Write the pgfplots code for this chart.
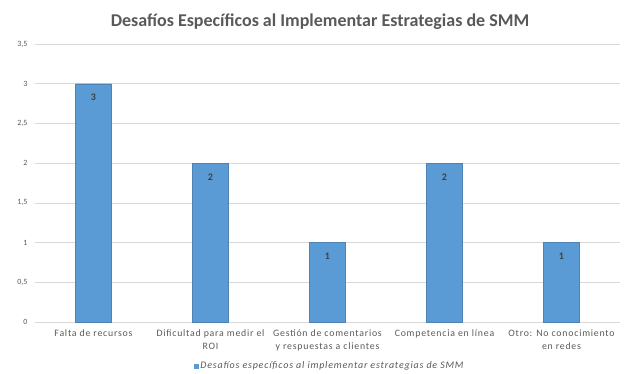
\documentclass[border=0pt]{standalone}
\usepackage{pgfplots}
\pgfplotsset{compat=1.18}
\usepackage{fontspec}
\setmainfont{Carlito}
\newfontfamily\widefont[LetterSpace=8]{Carlito}
\definecolor{barblue}{HTML}{5B9BD5}
\definecolor{txtgray}{HTML}{595959}
\definecolor{gridgray}{HTML}{D9D9D9}
\begin{document}
\begin{tikzpicture}[x=1pt,y=1pt]
\useasboundingbox (0,0) rectangle (625,373);
\begin{axis}[
  at={(35pt,51pt)}, anchor=south west,
  scale only axis, width=585pt, height=278pt,
  xmin=-0.5, xmax=4.5, ymin=0, ymax=3.5,
  ytick={0,0.5,...,3.5},
  /pgf/number format/use comma,
  /pgf/number format/assume math mode=true,
  xtick=data,
  xticklabels={Falta de recursos,{Dificultad para medir el\\ROI},{Gestión de comentarios\\y respuestas a clientes},Competencia en línea,{Otro: No conocimiento\\en redes}},
  xticklabel style={align=center, font=\widefont\fontsize{9.8}{13}\selectfont, text=txtgray, yshift=-4pt},
  yticklabel style={font=\fontsize{8}{9}\selectfont, text=txtgray, xshift=-4pt},
  axis lines*=left,
  y axis line style={draw=none},
  x axis line style={draw=gridgray, -},
  ymajorgrids, grid style={draw=gridgray, line width=0.6pt},
  major tick length=0pt,
  ybar, bar width=36pt,
  nodes near coords={\pgfmathprintnumber[assume math mode=true]{\pgfplotspointmeta}},
  nodes near coords style={anchor=north, yshift=-7pt, font=\fontsize{10}{11}\selectfont\bfseries, text=black!75},
  legend style={at={(0.504,-0.158)}, anchor=center, draw=none, fill=none, font=\widefont\itshape\fontsize{10}{11}\selectfont, text=txtgray, inner sep=1pt},
  legend image code/.code={\fill[barblue] (0cm,-0.07cm) rectangle (0.14cm,0.07cm);},
  clip=false,
]
\addplot[fill=barblue, draw=barblue!85!black, line width=0.3pt] coordinates {(0,3) (1,2) (2,1) (3,2) (4,1)};
\addlegendentry{Desafíos específicos al implementar estrategias de SMM}
\end{axis}
\node[font=\bfseries\fontsize{18}{20}\selectfont, text=txtgray] at (320,351) {Desafíos Específicos al Implementar Estrategias de SMM};
\end{tikzpicture}
\end{document}
